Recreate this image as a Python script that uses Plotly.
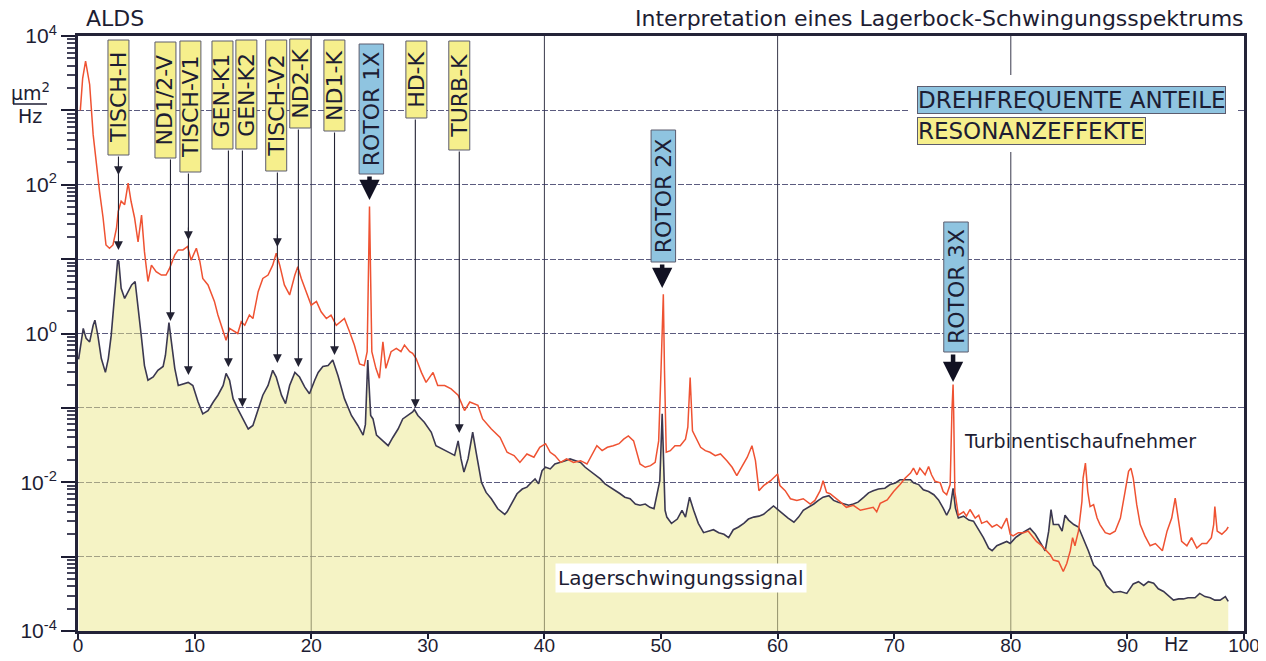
import plotly.graph_objects as go

# ---------------- data ----------------
red_hz = [0.2, 0.4, 0.65, 1.0, 1.3, 1.6, 1.85, 2.15, 2.4, 2.7, 3.0, 3.3, 3.45, 3.7, 4.0, 4.3, 4.55, 4.85,
          5.15, 5.45, 5.7, 6.0, 6.3, 6.7, 7.15, 7.55, 7.85, 8.3, 8.6, 9.0, 9.4, 9.7, 10.15, 10.45, 10.7,
          11.15, 11.45, 11.7, 12.0, 12.45, 12.7, 13.0, 13.45, 13.7, 14.0, 14.3, 14.7, 15.0, 15.45, 15.85,
          16.3, 16.7, 17.0, 17.3, 17.7, 18.15, 18.6, 18.85, 19.15, 19.6, 20.0, 20.45, 20.85, 21.3, 21.7,
          22.15, 22.55, 22.85, 23.3, 23.7, 24.15, 24.55, 24.8, 25.0, 25.2, 25.55, 25.85, 26.15, 26.4,
          26.85, 27.3, 27.7, 28.0, 28.45, 28.7, 29.0, 29.45, 29.85, 30.45, 30.85, 31.45, 32.0, 32.6,
          33.15, 33.6, 34.3, 34.7, 35.45, 36.2, 36.8, 37.4, 37.9, 38.5, 39.1, 39.6, 40.1, 40.5, 40.9,
          41.4, 41.9, 42.5, 43.1, 43.65, 44.1, 44.5, 44.95, 45.4, 45.9, 46.4, 46.8, 47.2, 47.65, 47.9,
          48.2, 48.65, 49.1, 49.5, 49.8, 50.0, 50.2, 50.3, 50.45, 50.8, 51.2, 51.65, 52.1, 52.3, 52.5,
          52.7, 52.9, 53.4, 53.8, 54.2, 54.65, 55.1, 55.65, 56.1, 56.5, 56.9, 57.4, 57.8, 58.1, 58.4,
          58.8, 59.4, 60.0, 60.2, 60.65, 61.1, 61.65, 62.2, 62.8, 63.2, 63.65, 63.9, 64.2, 64.5, 64.9,
          65.4, 65.9, 66.5, 67.1, 67.65, 68.2, 68.5, 68.8, 69.4, 69.95, 70.5, 70.95, 71.4, 71.65, 71.95,
          72.2, 72.65, 72.95, 73.2, 73.5, 73.95, 74.2, 74.5, 74.8, 74.95, 75.05, 75.1, 75.2, 75.5,
          75.95, 76.2, 76.5, 76.95, 77.25, 77.5, 77.95, 78.4, 78.8, 79.2, 79.65, 79.95, 80.2, 80.65,
          81.1, 81.5, 81.8, 82.2, 82.65, 83.1, 83.4, 83.65, 84.1, 84.5, 84.8, 85.1, 85.3, 85.5, 85.8,
          86.1, 86.2, 86.4, 86.6, 86.8, 87.1, 87.4, 87.65, 88.1, 88.5, 88.95, 89.4, 89.8, 90.1, 90.3,
          90.5, 90.8, 91.1, 91.5, 91.95, 92.4, 92.8, 93.0, 93.4, 93.8, 94.1, 94.4, 94.65, 95.1, 95.5,
          95.95, 96.4, 96.8, 97.2, 97.4, 97.5, 97.7, 98.1, 98.5, 98.65]
red_psd = [1000, 2700, 4600, 2230, 472, 168, 81, 36, 15.5, 14, 15.5, 26, 44, 60, 54, 105, 60, 36,
           17, 39, 12.6, 5.0, 8.3, 6.8, 6.1, 6.1, 7.5, 11.4, 13.3, 13.3, 14.8, 9.7, 14, 9.3, 5.5,
           4.5, 3.3, 2.7, 1.77, 1.05, 0.81, 1.17, 1.05, 1.0, 1.44, 1.29, 1.77, 1.59, 3.65, 5.5,
           6.1, 8.3, 12, 8.3, 4.5, 3.3, 6.1, 7.9, 5.5, 3.65, 2.4, 2.7, 1.96, 1.59, 1.77,
           1.29, 1.44, 1.59, 1.05, 0.70, 0.39, 0.37, 0.57, 51, 0.57, 0.34, 0.25, 0.77, 0.34,
           0.57, 0.63, 0.57, 0.70, 0.57, 0.54, 0.46, 0.30, 0.22, 0.30, 0.20, 0.20, 0.18, 0.148,
           0.092, 0.12, 0.108, 0.071, 0.052, 0.040, 0.0253, 0.0228, 0.0185, 0.024, 0.0217, 0.0295, 0.033, 0.0253, 0.0228,
           0.0185, 0.0206, 0.0185, 0.0195, 0.0176, 0.024, 0.031, 0.0266, 0.0295, 0.031, 0.033, 0.038, 0.042, 0.036, 0.0253,
           0.0176, 0.0159, 0.0167, 0.0185, 0.036, 0.315, 3.37, 0.315, 0.0253, 0.0266, 0.031, 0.031, 0.038, 0.055, 0.256,
           0.049, 0.042, 0.0295, 0.0266, 0.0253, 0.0228, 0.024, 0.0195, 0.0159, 0.0123, 0.0159, 0.0217, 0.031, 0.0195, 0.0077,
           0.0090, 0.0105, 0.0129, 0.0090, 0.0077, 0.0060, 0.0057, 0.0060, 0.0051, 0.0057, 0.0077, 0.0105, 0.0073, 0.0070, 0.0063,
           0.0054, 0.0046, 0.0049, 0.0042, 0.0044, 0.0046, 0.0040, 0.0052, 0.0058, 0.0075, 0.0093, 0.0114, 0.0133, 0.0155, 0.0126,
           0.0155, 0.0126, 0.0163, 0.0126, 0.0103, 0.0098, 0.0075, 0.0068, 0.0093, 0.090, 0.206, 0.090, 0.0075, 0.0036,
           0.0040, 0.0035, 0.0043, 0.0033, 0.0036, 0.0028, 0.0030, 0.0025, 0.0027, 0.0024, 0.0033, 0.0020, 0.0019, 0.0021,
           0.0021, 0.0022, 0.0019, 0.0016, 0.0014, 0.0012, 0.00105, 0.0009, 0.00086, 0.00063, 0.00081, 0.0012, 0.0018, 0.0014, 0.0022,
           0.0055, 0.0114, 0.0181, 0.0075, 0.0047, 0.0050, 0.0033, 0.0027, 0.0021, 0.0020, 0.0022, 0.0033, 0.0075, 0.0140, 0.0155,
           0.0114, 0.0050, 0.0027, 0.0019, 0.0014, 0.0015, 0.0013, 0.0012, 0.0022, 0.0033, 0.0061, 0.0031, 0.0016, 0.0014, 0.0018,
           0.0013, 0.0015, 0.0015, 0.0018, 0.0027, 0.0047, 0.0022, 0.0020, 0.0023, 0.0025]

black_hz = [0.05, 0.15, 0.45, 0.7, 1.0, 1.3, 1.45, 1.7, 2.0, 2.35, 2.6, 2.85, 3.15, 3.4, 3.5, 3.7, 4.0,
            4.3, 4.6, 4.9, 5.15, 5.45, 5.7, 6.0, 6.45, 6.85, 7.3, 7.5, 7.8, 8.0, 8.3, 8.6, 9.0, 9.45,
            9.85, 10.3, 10.7, 11.15, 11.6, 12.0, 12.45, 12.7, 13.0, 13.3, 13.7, 14.15, 14.6, 15.0,
            15.45, 15.85, 16.3, 16.7, 17.0, 17.45, 17.8, 18.15, 18.6, 19.0, 19.45, 19.85, 20.3, 20.6,
            21.0, 21.45, 21.85, 22.3, 22.85, 23.45, 24.0, 24.45, 24.65, 24.85, 25.1, 25.3, 25.6, 26.15,
            26.6, 27.0, 27.45, 27.85, 28.3, 28.7, 28.85, 29.15, 29.7, 30.3, 30.7, 31.3, 31.85, 32.3,
            32.6, 32.85, 33.1, 33.45, 33.85, 34.15, 34.6, 35.0, 35.45, 36.0, 36.6, 36.8, 37.2, 37.65,
            38.1, 38.5, 38.9, 39.2, 39.5, 39.8, 40.1, 40.5, 40.9, 41.4, 41.8, 42.2, 42.65, 43.1, 43.5,
            43.9, 44.4, 44.8, 45.2, 45.65, 46.1, 46.5, 46.9, 47.35, 47.8, 48.2, 48.65, 49.05, 49.4,
            49.65, 49.9, 50.1, 50.25, 50.35, 50.5, 50.9, 51.4, 51.8, 52.1, 52.45, 52.8, 53.2, 53.65,
            54.1, 54.5, 54.95, 55.4, 55.8, 56.2, 56.65, 57.1, 57.5, 57.95, 58.4, 58.8, 59.2, 59.65,
            60.1, 60.5, 60.9, 61.4, 61.8, 62.2, 62.65, 63.1, 63.5, 63.9, 64.4, 64.8, 65.2, 65.65,
            66.1, 66.5, 66.9, 67.4, 67.8, 68.2, 68.65, 69.2, 69.65, 70.1, 70.5, 70.95, 71.4, 71.65,
            72.1, 72.5, 72.95, 73.4, 73.8, 74.2, 74.5, 74.8, 75.05, 75.25, 75.5, 75.95, 76.4, 76.8,
            77.2, 77.65, 78.1, 78.4, 78.8, 79.2, 79.65, 79.95, 80.4, 80.8, 81.2, 81.65, 82.1, 82.5,
            82.95, 83.25, 83.45, 83.65, 84.1, 84.4, 84.65, 84.95, 85.4, 85.8, 86.2, 86.65, 87.1,
            87.65, 88.2, 88.8, 89.4, 89.95, 90.5, 90.95, 91.4, 91.8, 92.25, 92.65, 93.1, 93.5, 93.95,
            94.4, 94.8, 95.2, 95.8, 96.2, 96.65, 97.1, 97.5, 97.95, 98.4, 98.65]
black_psd = [0.45, 0.57, 1.17, 0.86, 0.77, 1.29, 1.51, 0.95, 0.46, 0.30, 0.46, 0.95, 2.96, 9.7, 9.3, 4.05, 2.96,
             3.65, 4.5, 5.0, 2.4, 0.86, 0.37, 0.235, 0.26, 0.32, 0.36, 0.51, 1.4, 0.77, 0.34, 0.20, 0.21, 0.22,
             0.20, 0.12, 0.083, 0.092, 0.12, 0.148, 0.20, 0.29, 0.235, 0.133, 0.097, 0.071, 0.052, 0.058,
             0.097, 0.148, 0.20, 0.32, 0.26, 0.148, 0.114, 0.20, 0.30, 0.26, 0.19, 0.155, 0.235, 0.30,
             0.36, 0.37, 0.44, 0.27, 0.133, 0.079, 0.058, 0.043, 0.06, 0.44, 0.079, 0.071, 0.043, 0.036,
             0.031, 0.040, 0.052, 0.071, 0.079, 0.088, 0.095, 0.079, 0.064, 0.047, 0.031, 0.028, 0.025, 0.023,
             0.036, 0.0206, 0.0137, 0.0206, 0.047, 0.025, 0.010, 0.0073, 0.0060, 0.0044, 0.0037, 0.0040, 0.0051, 0.0070,
             0.0081, 0.0086, 0.0100, 0.0111, 0.0095, 0.0143, 0.0159, 0.0151, 0.0176, 0.0185, 0.0195, 0.0206, 0.0195, 0.0185, 0.0159,
             0.0143, 0.0123, 0.0111, 0.0095, 0.0086, 0.0077, 0.0070, 0.0063, 0.0060, 0.0051, 0.0049, 0.0051, 0.0046, 0.0044,
             0.0070, 0.0105, 0.083, 0.010, 0.0042, 0.0034, 0.0028, 0.0032, 0.0042, 0.0034, 0.0063, 0.0042, 0.0028, 0.0021,
             0.0022, 0.0023, 0.0021, 0.0020, 0.0018, 0.0023, 0.0025, 0.0028, 0.0032, 0.0034, 0.0035, 0.0037, 0.0042, 0.0048,
             0.0042, 0.0037, 0.0033, 0.0029, 0.0034, 0.0042, 0.0046, 0.0051, 0.0057, 0.0063, 0.0066, 0.0057, 0.0054, 0.0052,
             0.0049, 0.0051, 0.0054, 0.0063, 0.0072, 0.0077, 0.0081, 0.0083, 0.0093, 0.0098, 0.0108, 0.0108, 0.0108, 0.0098,
             0.0093, 0.0079, 0.0075, 0.0068, 0.0058, 0.0045, 0.0036, 0.0045, 0.0083, 0.0045, 0.0033, 0.0035, 0.0031, 0.0030,
             0.0024, 0.0018, 0.0013, 0.0012, 0.0014, 0.0015, 0.0016, 0.0015, 0.0018, 0.0020, 0.0022, 0.0024, 0.0020, 0.0016,
             0.0012, 0.0022, 0.0043, 0.0027, 0.0027, 0.0022, 0.0036, 0.0031, 0.0027, 0.0025, 0.0018, 0.0012, 0.00077,
             0.00063, 0.00041, 0.00033, 0.00034, 0.00032, 0.00043, 0.00046, 0.00041, 0.00046, 0.00044, 0.00037, 0.00034, 0.00030, 0.00026,
             0.00027, 0.00027, 0.00028, 0.00028, 0.00032, 0.00029, 0.00028, 0.00026, 0.00026, 0.00029, 0.00025]

label_text = ["TISCH-H", "ND1/2-V", "TISCH-V1", "GEN-K1", "GEN-K2", "TISCH-V2", "ND2-K", "ND1-K",
              "ROTOR 1X", "HD-K", "TURB-K", "ROTOR 2X", "ROTOR 3X"]
label_hz = [3.47, 7.93, 9.47, 12.9, 14.1, 17.1, 18.9, 22.0, 25.0, 28.93, 32.7, 50.1, 75.05]
label_kind = ["res", "res", "res", "res", "res", "res", "res", "res", "rot", "res", "res", "rot", "rot"]

y_tick_exp = [-4, -3, -2, -1, 0, 1, 2, 3, 4]
x_ticks = [0, 10, 20, 30, 40, 50, 60, 70, 80, 90, 100]

# ---------------- frame geometry ----------------
# the page body has an 8px margin; the figure is sized so that the page is filled exactly
BODY = 8
W, H = 1266 - 2 * BODY, 661 - 2 * BODY
P_L, P_T, P_R, P_B = 78, 36, 1244, 631          # plot area on the page
ML, MT = P_L - BODY, P_T - BODY
MR, MB = W - (P_R - BODY), H - (P_B - BODY)


def px(X):      # page pixel column -> paper fraction
    return (X - P_L) / (P_R - P_L)


def py(Y):      # page pixel row -> paper fraction
    return (P_B - Y) / (P_B - P_T)


def ylog(Y):    # page pixel row -> log10 axis coordinate
    return 4 - 8 * (Y - P_T) / (P_B - P_T)


# box geometry per label (centre in Hz, top/bottom page rows) and arrow tips (page rows)
box_hz = [3.47, 7.5, 9.64, 12.39, 14.44, 17.0, 19.06, 21.99, 25.16, 29.02, 32.7, 50.2, 75.3]
box_top = [40, 42, 41, 41, 40, 40, 39, 40, 44, 41, 41, 130, 222]
box_bot = [155, 158, 172, 149, 149, 171, 128, 131, 174, 118, 150, 262, 352]
tip_Y = [250, 321, 375, 367, 407, 363, 367, 355, 200, 408, 433, 288, 382]
extra_tips = {0: [175], 2: [240], 5: [247]}

INK = "#1d1d33"
RED = "#ef5232"
DARK = "#3b3850"
YEL = "#f6ef8c"
BLUE = "#8fc4e0"
FONT = "DejaVu Sans"

fig = go.Figure()
fig.add_trace(go.Scatter(x=black_hz, y=black_psd, mode="lines", line=dict(color=DARK, width=1.6),
                         fill="tozeroy", fillcolor="rgba(236,231,140,0.5)", name="Lagerschwingungssignal",
                         showlegend=False, hoverinfo="skip"))
fig.add_trace(go.Scatter(x=red_hz, y=red_psd, mode="lines", line=dict(color=RED, width=1.5),
                         name="Turbinentischaufnehmer", showlegend=False, hoverinfo="skip"))

shapes = []
for g in [20, 40, 60, 80]:
    shapes.append(dict(type="line", xref="x", yref="paper", x0=g, x1=g, y0=0, y1=1,
                       line=dict(color="rgba(35,35,55,0.9)", width=1), layer="between"))
shapes.append(dict(type="rect", xref="paper", yref="paper", x0=px(908), x1=px(1238), y0=py(152), y1=py(75),
                   fillcolor="white", line=dict(width=0), layer="above"))
shapes.append(dict(type="line", xref="paper", yref="paper", x0=px(13), x1=px(47), y0=py(104), y1=py(104),
                   line=dict(color=INK, width=1.5)))

annotations = []
for i, txt in enumerate(label_text):
    rot = label_kind[i] == "rot"
    hw = 1.05 if rot else 0.9
    shapes.append(dict(type="rect", xref="x", yref="paper", x0=box_hz[i] - hw, x1=box_hz[i] + hw,
                       y0=py(box_bot[i]), y1=py(box_top[i]), fillcolor=BLUE if rot else YEL,
                       line=dict(color="#5c5c6e", width=1), layer="above"))
    annotations.append(dict(x=box_hz[i], y=py((box_top[i] + box_bot[i]) / 2), xref="x", yref="paper",
                            text=txt, textangle=-90, showarrow=False, xanchor="center", yanchor="middle",
                            font=dict(family=FONT, size=22, color=INK)))
    if rot:
        annotations.append(dict(x=label_hz[i], y=ylog(tip_Y[i]), xref="x", yref="y",
                                ax=label_hz[i], ay=ylog(box_bot[i] + 1), axref="x", ayref="y",
                                text="", showarrow=True, arrowhead=2, arrowsize=0.9, arrowwidth=4.5,
                                arrowcolor="#111122", standoff=0))
    else:
        annotations.append(dict(x=label_hz[i], y=ylog(tip_Y[i]), xref="x", yref="y",
                                ax=label_hz[i], ay=ylog(box_bot[i]), axref="x", ayref="y",
                                text="", showarrow=True, arrowhead=2, arrowsize=1.6, arrowwidth=1.1,
                                arrowcolor="#222233", standoff=0))
        for t in extra_tips.get(i, []):
            annotations.append(dict(x=label_hz[i], y=ylog(t), xref="x", yref="y",
                                    ax=label_hz[i], ay=ylog(t - 14), axref="x", ayref="y",
                                    text="", showarrow=True, arrowhead=2, arrowsize=1.6, arrowwidth=1.1,
                                    arrowcolor="#222233", standoff=0))

annotations.append(dict(x=px(917), y=py(100), xref="paper", yref="paper", xanchor="left", yanchor="middle",
                        text="DREHFREQUENTE ANTEILE", showarrow=False, bgcolor=BLUE, bordercolor="#5c5c6e",
                        borderwidth=1, borderpad=0, font=dict(family=FONT, size=23, color=INK)))
annotations.append(dict(x=px(917), y=py(131.5), xref="paper", yref="paper", xanchor="left", yanchor="middle",
                        text="RESONANZEFFEKTE", showarrow=False, bgcolor=YEL, bordercolor="#5c5c6e",
                        borderwidth=1, borderpad=0, font=dict(family=FONT, size=23, color=INK)))
annotations.append(dict(x=px(84), y=py(18), xref="paper", yref="paper", xanchor="left", yanchor="middle",
                        text="ALDS", showarrow=False, font=dict(family=FONT, size=22, color=INK)))
annotations.append(dict(x=px(1246), y=py(18), xref="paper", yref="paper", xanchor="right", yanchor="middle",
                        text="Interpretation eines Lagerbock-Schwingungsspektrums", showarrow=False,
                        font=dict(family=FONT, size=22, color=INK)))
annotations.append(dict(x=px(30), y=py(92), xref="paper", yref="paper", xanchor="center", yanchor="middle",
                        text="µm<sup>2</sup>", showarrow=False, font=dict(family=FONT, size=19, color=INK)))
annotations.append(dict(x=px(30), y=py(116), xref="paper", yref="paper", xanchor="center", yanchor="middle",
                        text="Hz", showarrow=False, font=dict(family=FONT, size=19, color=INK)))
annotations.append(dict(x=px(962), y=py(441), xref="paper", yref="paper", xanchor="left", yanchor="middle",
                        text="Turbinentischaufnehmer", showarrow=False, font=dict(family=FONT, size=19, color=INK)))
annotations.append(dict(x=px(555), y=py(578), xref="paper", yref="paper", xanchor="left", yanchor="middle",
                        text="Lagerschwingungssignal", showarrow=False, bgcolor="white", borderpad=2,
                        font=dict(family=FONT, size=20, color=INK)))
annotations.append(dict(x=px(1176), y=py(644), xref="paper", yref="paper", xanchor="center", yanchor="middle",
                        text="Hz", showarrow=False, font=dict(family=FONT, size=19, color=INK)))

y_ticktext = [("10<sup>%d</sup>" % e) if e % 2 == 0 else "" for e in y_tick_exp]
minor_vals = [m * 10.0 ** e for e in range(-4, 4) for m in range(2, 10)]

fig.update_layout(
    width=W, height=H, margin=dict(l=ML, r=MR, t=MT, b=MB, autoexpand=False),
    paper_bgcolor="white", plot_bgcolor="white", showlegend=False,
    shapes=shapes, annotations=annotations,
    xaxis=dict(range=[0, 100], tickvals=x_ticks, ticktext=[str(v) for v in x_ticks],
               showgrid=False, zeroline=False, ticks="outside", ticklen=5, tickwidth=2, tickcolor=INK,
               ticklabelstandoff=-10, ticklabeloverflow="allow",
               showline=True, linecolor="#232338", linewidth=3, mirror=True,
               tickfont=dict(family="Liberation Sans", size=19, color=INK), automargin=False),
    yaxis=dict(type="log", range=[-4, 4], tickvals=[10.0 ** e for e in y_tick_exp], ticktext=y_ticktext,
               showgrid=True, gridcolor="rgba(50,50,95,0.8)", gridwidth=1, griddash="6px,2px",
               zeroline=False, ticks="outside", ticklen=14, tickwidth=2, tickcolor=INK,
               showline=True, linecolor="#232338", linewidth=3, mirror=True,
               minor=dict(tickvals=minor_vals, ticks="outside", ticklen=8, tickwidth=1.5, tickcolor="#44445a",
                          showgrid=False),
               tickfont=dict(family="Liberation Sans", size=21, color=INK), automargin=False),
)

fig.write_html("out.html")
